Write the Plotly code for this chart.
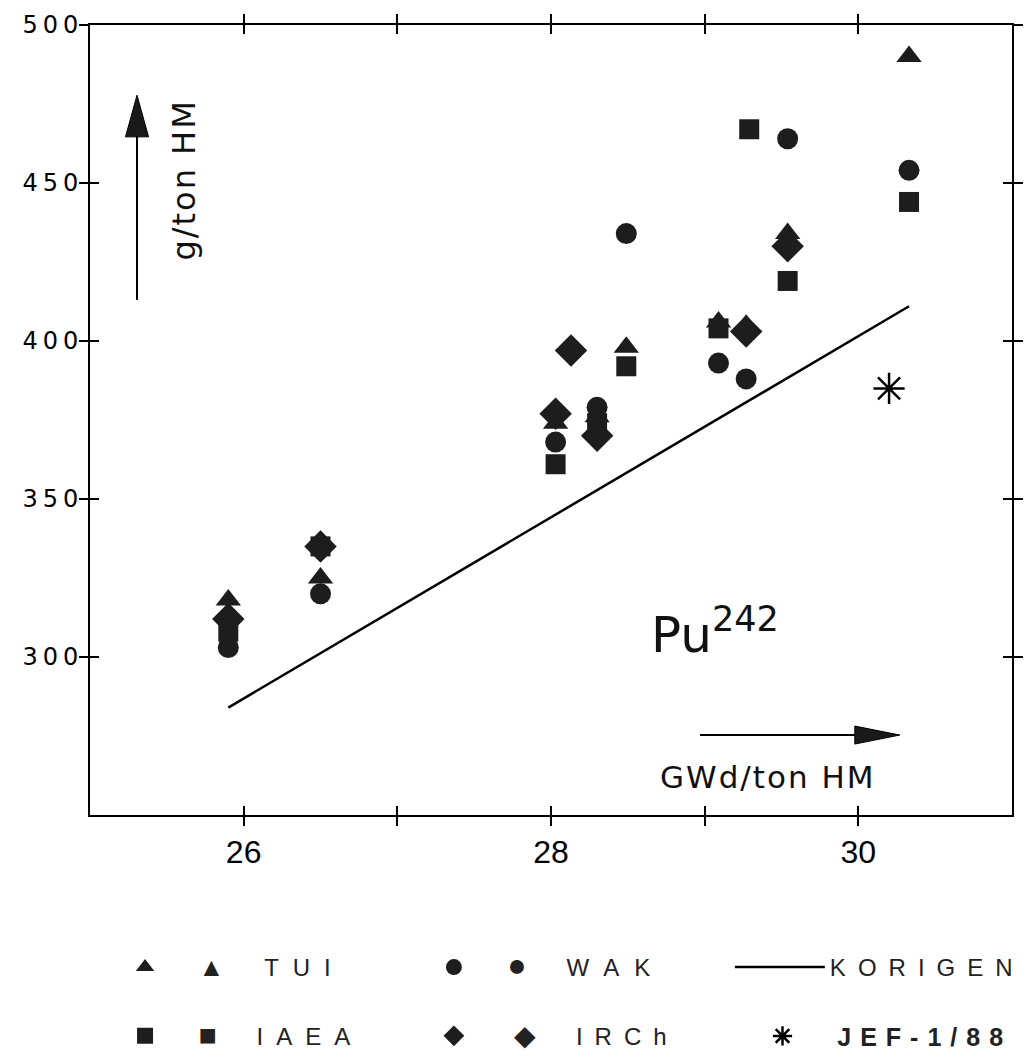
import plotly.graph_objects as go

# ---------------- data ----------------
tui_x = [25.90, 26.50, 28.03, 28.30, 28.49, 29.09, 29.27, 29.54, 30.33]
tui_y = [318, 325, 374, 376, 398, 406, 405, 434, 490]

wak_x = [25.90, 26.50, 28.03, 28.30, 28.49, 29.09, 29.27, 29.54, 30.33]
wak_y = [303, 320, 368, 379, 434, 393, 388, 464, 454]

iaea_x = [25.90, 26.50, 28.03, 28.30, 28.49, 29.09, 29.29, 29.54, 30.33]
iaea_y = [308, 335, 361, 374, 392, 404, 467, 419, 444]

irch_x = [25.90, 26.50, 28.03, 28.13, 28.30, 29.27, 29.54]
irch_y = [312, 335, 377, 397, 370, 403, 430]

jef_x = [30.20]
jef_y = [385]

korigen_x = [25.90, 30.33]
korigen_y = [284, 411]

x_tick_vals = [26, 27, 28, 29, 30]
x_label_vals = [26, 28, 30]
x_label_text = ["26", "28", "30"]
y_tick_vals = [300, 350, 400, 450, 500]
y_tick_text = ["300", "350", "400", "450", "500"]

X_RANGE = [25, 31]
Y_RANGE = [250, 500]

MARK = "#1d1d1d"
NB = "\u00a0"

fig = go.Figure()

def sym(ch, size):
    return f"<span style='font-size:{size}px'>{ch}</span>"

def spaced(t, ls):
    return f"<span style='letter-spacing:{ls}px'>{t}</span>"

# KORIGEN line lives on the overlay x-axis that carries the tick labels
fig.add_trace(go.Scatter(
    x=korigen_x, y=korigen_y, mode="lines", xaxis="x3", yaxis="y",
    line=dict(color="black", width=2.5),
    name=spaced("KORIGEN", 12), legend="legend3"))

fig.add_trace(go.Scatter(
    x=iaea_x, y=iaea_y, mode="markers",
    marker=dict(symbol="square", size=20, color=MARK),
    name=NB * 5 + sym("■", 30) + NB * 6 + spaced("IAEA", 13), legend="legend4"))

fig.add_trace(go.Scatter(
    x=wak_x, y=wak_y, mode="markers",
    marker=dict(symbol="circle", size=21, color=MARK),
    name=NB * 5 + sym("●", 32) + NB * 6 + spaced("WAK", 15), legend="legend2"))

fig.add_trace(go.Scatter(
    x=irch_x, y=irch_y, mode="markers",
    marker=dict(symbol="diamond", size=25, color=MARK),
    name=NB * 6 + sym("◆", 28) + NB * 6 + spaced("IRCh", 12), legend="legend5"))

fig.add_trace(go.Scatter(
    x=tui_x, y=tui_y, mode="markers",
    marker=dict(symbol="triangle-up", size=22, color=MARK),
    name=NB * 5 + sym("▲", 26) + NB * 6 + spaced("TUI", 14), legend="legend"))

# JEF point lives on the overlay axes that draw the inner/outer tick halves
fig.add_trace(go.Scatter(
    x=jef_x, y=jef_y, mode="markers", xaxis="x2", yaxis="y2",
    marker=dict(symbol="asterisk-open", size=26, color="black",
                line=dict(color="black", width=2.5)),
    name=NB * 5 + "<b>" + spaced("JEF-1/88", 9) + "</b>", legend="legend6"))

axis_common = dict(showgrid=False, zeroline=False, showline=True,
                   linecolor="black", linewidth=2, mirror="ticks",
                   tickcolor="black", tickwidth=2, ticklen=9)

fig.update_layout(
    width=1030, height=1061,
    margin=dict(l=90, r=18, t=25, b=246, autoexpand=False),
    paper_bgcolor="white", plot_bgcolor="white",
    font=dict(family="Liberation Sans", color="black"),
    xaxis=dict(range=X_RANGE, tickmode="array", tickvals=x_tick_vals,
               ticks="outside", showticklabels=False, **axis_common),
    xaxis3=dict(range=X_RANGE, overlaying="x", anchor="y", tickmode="array",
                tickvals=x_label_vals, ticktext=x_label_text, ticks="outside",
                ticklen=9, tickcolor="rgba(0,0,0,0)", showline=False,
                showgrid=False, zeroline=False,
                tickfont=dict(family="Liberation Sans Narrow, Liberation Sans", size=32)),
    yaxis=dict(range=Y_RANGE, tickmode="array", tickvals=y_tick_vals,
               ticktext=[spaced(t, 5) for t in y_tick_text], ticks="inside",
               tickfont=dict(family="DejaVu Sans", size=24),
               **axis_common),
    xaxis2=dict(range=X_RANGE, overlaying="x", anchor="y2", tickmode="array",
                tickvals=x_tick_vals, ticks="inside", showticklabels=False,
                **axis_common),
    yaxis2=dict(range=Y_RANGE, overlaying="y", anchor="x2", tickmode="array",
                tickvals=y_tick_vals, ticks="outside", showticklabels=False,
                **axis_common),
    showlegend=True,
)

leg_common = dict(xanchor="left", yanchor="middle", bgcolor="rgba(0,0,0,0)",
                  font=dict(family="Liberation Sans", size=24, color="#222"),
                  itemsizing="trace")
row1, row2 = -0.193, -0.280
fig.update_layout(
    legend=dict(x=0.038, y=row1, **leg_common),
    legend2=dict(x=0.373, y=row1, **leg_common),
    legend3=dict(x=0.694, y=row1, itemwidth=90, **leg_common),
    legend4=dict(x=0.038, y=row2, **leg_common),
    legend5=dict(x=0.373, y=row2, **leg_common),
    legend6=dict(x=0.7294, y=row2,
                 **{**leg_common, "font": dict(family="Liberation Sans", size=25, color="#222")}),
)

# text annotations
fig.add_annotation(x=25.61, y=451, text=spaced("g/ton HM", 2), textangle=-90, showarrow=False,
                   font=dict(family="DejaVu Sans", size=32, color="#111"))
fig.add_annotation(x=29.41, y=262, text=spaced("GWd/ton HM", 2), showarrow=False,
                   font=dict(family="DejaVu Sans", size=31, color="#111"))
fig.add_annotation(x=29.07, y=308, text="Pu<sup>242</sup>", showarrow=False,
                   font=dict(family="DejaVu Sans", size=50, color="#111"))

# arrows (decoration): vertical y-arrow and horizontal x-arrow
fig.add_shape(type="line", xref="x", yref="y", x0=25.306, x1=25.306, y0=413, y1=466,
              line=dict(color="black", width=2))
fig.add_shape(type="path", xref="x", yref="y",
              path="M 25.306 477.8 L 25.231 464.6 L 25.381 464.6 Z",
              fillcolor="#1a1a1a", line=dict(color="black", width=1))
fig.add_shape(type="line", xref="x", yref="y", x0=28.97, x1=29.99, y0=275.3, y1=275.3,
              line=dict(color="black", width=2))
fig.add_shape(type="path", xref="x", yref="y",
              path="M 30.27 275.3 L 29.977 278.15 L 29.977 272.45 Z",
              fillcolor="#1a1a1a", line=dict(color="black", width=1))

fig.write_html("out.html")
